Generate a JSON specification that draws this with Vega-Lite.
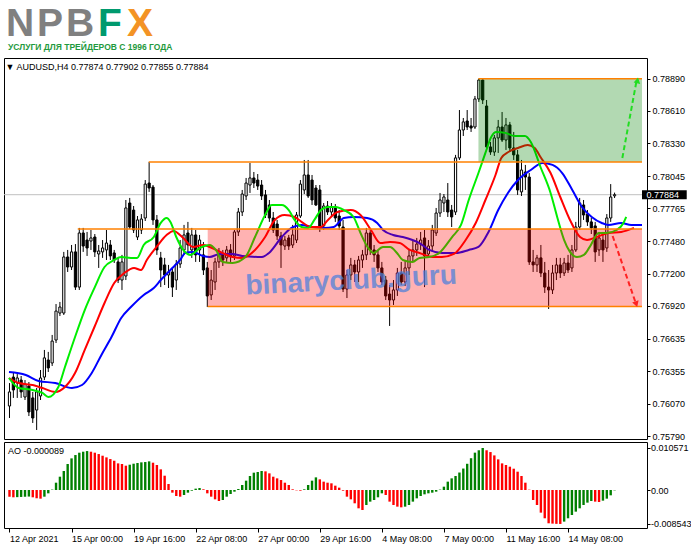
{
"$schema":"https://vega.github.io/schema/vega-lite/v6.json",
"background":"white",
"padding":{"left":3,"top":0,"right":0,"bottom":0},
"config":{"font":"Liberation Sans","view":{"stroke":"#000000","strokeWidth":1},"axis":{"labelFont":"Liberation Sans","labelFontSize":9,"labelColor":"#000000","tickColor":"#000000","domain":false,"grid":false,"title":null,"labelOverlap":false,"labelFlush":false,"labelSeparation":0}},
"resolve":{"scale":{"color":"independent","fill":"independent"}},
"datasets":{
"logo":[{"ch":"N","g":"npb"},{"ch":"P","g":"npb"},{"ch":"B","g":"npb"},{"ch":"F","g":"f"},{"ch":"X","g":"x"}],
"last":[{"p":0.77884}],
"wm":[{"t":"binaryclub.guru","i":88.2,"p":0.77066}],
"zones":[{"zone":"sell","x0":51.1,"top":0.77587,"bot":0.76915},{"zone":"buy","x0":120.9,"top":0.7889,"bot":0.78168}],
"levels":[{"p":0.7889,"x0":120.9},{"p":0.78168,"x0":35.9},{"p":0.77587,"x0":17.6},{"p":0.76915,"x0":51.1}],
"arrows":[{"a":"up","i":158.0,"p":0.78202},{"a":"up","i":161.6,"p":0.7886},{"a":"down","i":155.5,"p":0.77526},{"a":"down","i":161.3,"p":0.7696}],
"heads":[{"a":"up","i":161.9,"p":0.78875},{"a":"down","i":161.6,"p":0.76935}],
"candles":[
{"i":0,"o":0.76052,"h":0.76251,"l":0.75948,"c":0.76174},
{"i":1,"o":0.76303,"h":0.76347,"l":0.76122,"c":0.76191},
{"i":2,"o":0.76251,"h":0.76329,"l":0.76122,"c":0.76295},
{"i":3,"o":0.76277,"h":0.76312,"l":0.76122,"c":0.76174},
{"i":4,"o":0.7613,"h":0.76277,"l":0.76104,"c":0.76242},
{"i":5,"o":0.76225,"h":0.7626,"l":0.75965,"c":0.76},
{"i":6,"o":0.76122,"h":0.76174,"l":0.75905,"c":0.75948},
{"i":7,"o":0.76017,"h":0.76208,"l":0.75844,"c":0.76174},
{"i":8,"o":0.76139,"h":0.76364,"l":0.76104,"c":0.76295},
{"i":9,"o":0.76303,"h":0.76538,"l":0.76277,"c":0.76469},
{"i":10,"o":0.76451,"h":0.76521,"l":0.76347,"c":0.76382},
{"i":11,"o":0.76425,"h":0.76668,"l":0.76399,"c":0.76615},
{"i":12,"o":0.76624,"h":0.76936,"l":0.76598,"c":0.76875},
{"i":13,"o":0.76858,"h":0.76954,"l":0.76832,"c":0.7691},
{"i":14,"o":0.76858,"h":0.77388,"l":0.76841,"c":0.77344},
{"i":15,"o":0.77344,"h":0.77405,"l":0.77214,"c":0.77257},
{"i":16,"o":0.77257,"h":0.77448,"l":0.77231,"c":0.77388},
{"i":17,"o":0.77388,"h":0.77456,"l":0.77058,"c":0.77083},
{"i":18,"o":0.77083,"h":0.77596,"l":0.77058,"c":0.77552},
{"i":19,"o":0.77552,"h":0.77596,"l":0.77388,"c":0.77439},
{"i":20,"o":0.77491,"h":0.77561,"l":0.77353,"c":0.77422},
{"i":21,"o":0.77482,"h":0.77578,"l":0.77405,"c":0.77509},
{"i":22,"o":0.77517,"h":0.77543,"l":0.77344,"c":0.77388},
{"i":23,"o":0.7737,"h":0.77448,"l":0.77249,"c":0.77396},
{"i":24,"o":0.77388,"h":0.77491,"l":0.77336,"c":0.77422},
{"i":25,"o":0.77405,"h":0.77578,"l":0.77318,"c":0.77465},
{"i":26,"o":0.77448,"h":0.77491,"l":0.77318,"c":0.77353},
{"i":27,"o":0.77379,"h":0.77405,"l":0.77292,"c":0.77318},
{"i":28,"o":0.77301,"h":0.77336,"l":0.77118,"c":0.77144},
{"i":29,"o":0.77144,"h":0.77362,"l":0.77058,"c":0.77301},
{"i":30,"o":0.77179,"h":0.77838,"l":0.77144,"c":0.77769},
{"i":31,"o":0.77812,"h":0.77856,"l":0.77587,"c":0.77604},
{"i":32,"o":0.77751,"h":0.77786,"l":0.77552,"c":0.77578},
{"i":33,"o":0.77517,"h":0.77699,"l":0.77491,"c":0.77665},
{"i":34,"o":0.77578,"h":0.77716,"l":0.77543,"c":0.77673},
{"i":35,"o":0.77682,"h":0.78011,"l":0.77656,"c":0.77976},
{"i":36,"o":0.77985,"h":0.78168,"l":0.77908,"c":0.77942},
{"i":37,"o":0.7795,"h":0.77968,"l":0.77622,"c":0.77665},
{"i":38,"o":0.77665,"h":0.77708,"l":0.77362,"c":0.77405},
{"i":39,"o":0.77336,"h":0.77388,"l":0.77083,"c":0.77231},
{"i":40,"o":0.77275,"h":0.77336,"l":0.77101,"c":0.77188},
{"i":41,"o":0.77188,"h":0.77275,"l":0.77075,"c":0.77214},
{"i":42,"o":0.77214,"h":0.77249,"l":0.76997,"c":0.77083},
{"i":43,"o":0.77144,"h":0.77318,"l":0.77058,"c":0.77283},
{"i":44,"o":0.77283,"h":0.77491,"l":0.77249,"c":0.77422},
{"i":45,"o":0.77405,"h":0.77622,"l":0.77362,"c":0.77535},
{"i":46,"o":0.77552,"h":0.77648,"l":0.77362,"c":0.77448},
{"i":47,"o":0.77405,"h":0.77596,"l":0.77336,"c":0.77535},
{"i":48,"o":0.77535,"h":0.77578,"l":0.77301,"c":0.77362},
{"i":49,"o":0.77405,"h":0.77535,"l":0.77301,"c":0.77491},
{"i":50,"o":0.77362,"h":0.77474,"l":0.77188,"c":0.77231},
{"i":51,"o":0.77249,"h":0.77301,"l":0.7691,"c":0.77006},
{"i":52,"o":0.77015,"h":0.77231,"l":0.76971,"c":0.77144},
{"i":53,"o":0.77127,"h":0.77336,"l":0.77058,"c":0.77301},
{"i":54,"o":0.77301,"h":0.77422,"l":0.77249,"c":0.77362},
{"i":55,"o":0.77362,"h":0.77405,"l":0.77266,"c":0.77318},
{"i":56,"o":0.77336,"h":0.77439,"l":0.77301,"c":0.77405},
{"i":57,"o":0.77405,"h":0.77456,"l":0.77301,"c":0.77353},
{"i":58,"o":0.77353,"h":0.77578,"l":0.77318,"c":0.77561},
{"i":59,"o":0.77561,"h":0.77769,"l":0.77526,"c":0.77734},
{"i":60,"o":0.77734,"h":0.77925,"l":0.77699,"c":0.7789},
{"i":61,"o":0.77873,"h":0.78029,"l":0.77838,"c":0.77985},
{"i":62,"o":0.77968,"h":0.78159,"l":0.77899,"c":0.78029},
{"i":63,"o":0.78029,"h":0.78081,"l":0.77942,"c":0.77985},
{"i":64,"o":0.78011,"h":0.78063,"l":0.77925,"c":0.77959},
{"i":65,"o":0.77968,"h":0.78011,"l":0.77838,"c":0.77873},
{"i":66,"o":0.77882,"h":0.77925,"l":0.77682,"c":0.77708},
{"i":67,"o":0.77795,"h":0.77838,"l":0.77648,"c":0.77682},
{"i":68,"o":0.77682,"h":0.77734,"l":0.77552,"c":0.77578},
{"i":69,"o":0.7763,"h":0.77665,"l":0.77491,"c":0.77526},
{"i":70,"o":0.77526,"h":0.77561,"l":0.77249,"c":0.77448},
{"i":71,"o":0.77439,"h":0.77526,"l":0.77405,"c":0.77491},
{"i":72,"o":0.77509,"h":0.77535,"l":0.77405,"c":0.77439},
{"i":73,"o":0.77448,"h":0.77622,"l":0.77422,"c":0.77535},
{"i":74,"o":0.77491,"h":0.77734,"l":0.77465,"c":0.77708},
{"i":75,"o":0.77699,"h":0.78011,"l":0.77682,"c":0.77976},
{"i":76,"o":0.77925,"h":0.78185,"l":0.7789,"c":0.78055},
{"i":77,"o":0.78055,"h":0.78185,"l":0.77856,"c":0.77873},
{"i":78,"o":0.78011,"h":0.78055,"l":0.77795,"c":0.77838},
{"i":79,"o":0.77942,"h":0.77968,"l":0.77786,"c":0.77795},
{"i":80,"o":0.77925,"h":0.77968,"l":0.77561,"c":0.77596},
{"i":81,"o":0.77613,"h":0.77812,"l":0.77578,"c":0.77786},
{"i":82,"o":0.77786,"h":0.77829,"l":0.77708,"c":0.77734},
{"i":83,"o":0.77734,"h":0.77812,"l":0.77691,"c":0.77777},
{"i":84,"o":0.77777,"h":0.77803,"l":0.77648,"c":0.77682},
{"i":85,"o":0.77699,"h":0.77751,"l":0.77578,"c":0.77613},
{"i":86,"o":0.77604,"h":0.77665,"l":0.7704,"c":0.77066},
{"i":87,"o":0.77066,"h":0.77231,"l":0.76988,"c":0.77188},
{"i":88,"o":0.77188,"h":0.77336,"l":0.77144,"c":0.77275},
{"i":89,"o":0.77275,"h":0.77318,"l":0.77127,"c":0.77214},
{"i":90,"o":0.77214,"h":0.77353,"l":0.77127,"c":0.77318},
{"i":91,"o":0.77318,"h":0.77405,"l":0.77249,"c":0.77362},
{"i":92,"o":0.77362,"h":0.77596,"l":0.77318,"c":0.77552},
{"i":93,"o":0.77552,"h":0.77578,"l":0.77362,"c":0.77405},
{"i":94,"o":0.77405,"h":0.77448,"l":0.77301,"c":0.77362},
{"i":95,"o":0.77362,"h":0.77405,"l":0.77214,"c":0.77249},
{"i":96,"o":0.77249,"h":0.77301,"l":0.77101,"c":0.77127},
{"i":97,"o":0.77144,"h":0.77179,"l":0.76971,"c":0.77006},
{"i":98,"o":0.77023,"h":0.77101,"l":0.76746,"c":0.76971},
{"i":99,"o":0.76971,"h":0.77144,"l":0.76928,"c":0.77058},
{"i":100,"o":0.77058,"h":0.77249,"l":0.77006,"c":0.77205},
{"i":101,"o":0.77205,"h":0.77301,"l":0.77101,"c":0.77127},
{"i":102,"o":0.77127,"h":0.77318,"l":0.77092,"c":0.77249},
{"i":103,"o":0.77249,"h":0.77405,"l":0.77188,"c":0.77353},
{"i":104,"o":0.77353,"h":0.77491,"l":0.77301,"c":0.77405},
{"i":105,"o":0.77405,"h":0.77509,"l":0.77353,"c":0.77456},
{"i":106,"o":0.77456,"h":0.77561,"l":0.77405,"c":0.77491},
{"i":107,"o":0.77509,"h":0.77578,"l":0.77083,"c":0.77353},
{"i":108,"o":0.7737,"h":0.77491,"l":0.77336,"c":0.77439},
{"i":109,"o":0.77439,"h":0.77622,"l":0.77388,"c":0.77578},
{"i":110,"o":0.77552,"h":0.77769,"l":0.77526,"c":0.77725},
{"i":111,"o":0.77725,"h":0.77899,"l":0.77691,"c":0.77838},
{"i":112,"o":0.77812,"h":0.7789,"l":0.77734,"c":0.77864},
{"i":113,"o":0.77838,"h":0.77985,"l":0.77691,"c":0.77734},
{"i":114,"o":0.77751,"h":0.77795,"l":0.77604,"c":0.77691},
{"i":115,"o":0.77734,"h":0.78229,"l":0.77708,"c":0.78203},
{"i":116,"o":0.78203,"h":0.78618,"l":0.78185,"c":0.78445},
{"i":117,"o":0.78445,"h":0.78549,"l":0.78393,"c":0.78515},
{"i":118,"o":0.78523,"h":0.78618,"l":0.78445,"c":0.78471},
{"i":119,"o":0.7848,"h":0.78549,"l":0.78428,"c":0.78462},
{"i":120,"o":0.78471,"h":0.7874,"l":0.78454,"c":0.78714},
{"i":121,"o":0.78714,"h":0.7889,"l":0.78688,"c":0.78878},
{"i":122,"o":0.78878,"h":0.78884,"l":0.7867,"c":0.78705},
{"i":123,"o":0.78653,"h":0.78705,"l":0.78272,"c":0.78298},
{"i":124,"o":0.78298,"h":0.78341,"l":0.78229,"c":0.78254},
{"i":125,"o":0.78254,"h":0.78402,"l":0.7822,"c":0.78376},
{"i":126,"o":0.78376,"h":0.78532,"l":0.78246,"c":0.78471},
{"i":127,"o":0.78471,"h":0.78601,"l":0.78341,"c":0.78358},
{"i":128,"o":0.78358,"h":0.78549,"l":0.78272,"c":0.78489},
{"i":129,"o":0.78489,"h":0.78515,"l":0.78254,"c":0.78289},
{"i":130,"o":0.78289,"h":0.78428,"l":0.78185,"c":0.78229},
{"i":131,"o":0.78229,"h":0.78272,"l":0.77882,"c":0.77925},
{"i":132,"o":0.77908,"h":0.78185,"l":0.77873,"c":0.78098},
{"i":133,"o":0.78081,"h":0.78142,"l":0.77925,"c":0.78037},
{"i":134,"o":0.78037,"h":0.78072,"l":0.77275,"c":0.77301},
{"i":135,"o":0.77301,"h":0.77405,"l":0.77214,"c":0.77275},
{"i":136,"o":0.77275,"h":0.77362,"l":0.77214,"c":0.77336},
{"i":137,"o":0.77336,"h":0.77448,"l":0.7717,"c":0.77205},
{"i":138,"o":0.77205,"h":0.77301,"l":0.77032,"c":0.77083},
{"i":139,"o":0.77083,"h":0.77231,"l":0.76893,"c":0.77058},
{"i":140,"o":0.77058,"h":0.77275,"l":0.77023,"c":0.77205},
{"i":141,"o":0.77205,"h":0.77336,"l":0.77144,"c":0.77275},
{"i":142,"o":0.77275,"h":0.77336,"l":0.77162,"c":0.77205},
{"i":143,"o":0.77205,"h":0.77336,"l":0.77179,"c":0.77292},
{"i":144,"o":0.77292,"h":0.77362,"l":0.77205,"c":0.77231},
{"i":145,"o":0.77249,"h":0.77448,"l":0.77214,"c":0.77405},
{"i":146,"o":0.77405,"h":0.77648,"l":0.77388,"c":0.77604},
{"i":147,"o":0.77604,"h":0.77856,"l":0.77578,"c":0.77812},
{"i":148,"o":0.77795,"h":0.77838,"l":0.77665,"c":0.77708},
{"i":149,"o":0.77716,"h":0.77751,"l":0.77613,"c":0.77648},
{"i":150,"o":0.77648,"h":0.77682,"l":0.77543,"c":0.77596},
{"i":151,"o":0.77613,"h":0.77648,"l":0.77301,"c":0.77388},
{"i":152,"o":0.77405,"h":0.77561,"l":0.77353,"c":0.77509},
{"i":153,"o":0.77491,"h":0.77561,"l":0.77301,"c":0.77405},
{"i":154,"o":0.77422,"h":0.77716,"l":0.77388,"c":0.77682},
{"i":155,"o":0.77682,"h":0.77976,"l":0.77648,"c":0.77864},
{"i":156,"o":0.77874,"h":0.77902,"l":0.77855,"c":0.77884}
],
"gator":[
{"s":"jaw","i":-0.13,"p":0.76347},{"s":"jaw","i":4.2,"p":0.76321},{"s":"jaw","i":7.5,"p":0.76269},{"s":"jaw","i":11.8,"p":0.76251},{"s":"jaw","i":16.1,"p":0.76208},{"s":"jaw","i":18.7,"p":0.76234},{"s":"jaw","i":21.2,"p":0.76338},{"s":"jaw","i":23.7,"p":0.76495},{"s":"jaw","i":26.3,"p":0.7665},{"s":"jaw","i":28.8,"p":0.76815},{"s":"jaw","i":31.3,"p":0.7691},{"s":"jaw","i":34.6,"p":0.77015},{"s":"jaw","i":37.2,"p":0.77075},{"s":"jaw","i":39,"p":0.77144},{"s":"jaw","i":41.5,"p":0.77231},{"s":"jaw","i":44,"p":0.77318},{"s":"jaw","i":45.3,"p":0.77379},{"s":"jaw","i":47.3,"p":0.77388},{"s":"jaw","i":49.9,"p":0.77353},{"s":"jaw","i":51.6,"p":0.77344},{"s":"jaw","i":54.2,"p":0.7737},{"s":"jaw","i":57.5,"p":0.7737},{"s":"jaw","i":60,"p":0.77353},{"s":"jaw","i":65.1,"p":0.77344},{"s":"jaw","i":66.9,"p":0.77379},{"s":"jaw","i":70.2,"p":0.77517},{"s":"jaw","i":72.7,"p":0.77596},{"s":"jaw","i":75.3,"p":0.77622},{"s":"jaw","i":77.8,"p":0.77604},{"s":"jaw","i":81.1,"p":0.77596},{"s":"jaw","i":83.6,"p":0.77604},{"s":"jaw","i":86.2,"p":0.77682},{"s":"jaw","i":88.7,"p":0.77691},{"s":"jaw","i":92.2,"p":0.77682},{"s":"jaw","i":94.8,"p":0.77639},{"s":"jaw","i":96.3,"p":0.77578},{"s":"jaw","i":98.9,"p":0.77535},{"s":"jaw","i":101.4,"p":0.77517},{"s":"jaw","i":103.9,"p":0.77491},{"s":"jaw","i":105.7,"p":0.77465},{"s":"jaw","i":108.2,"p":0.77405},{"s":"jaw","i":111.5,"p":0.77379},{"s":"jaw","i":115.1,"p":0.77379},{"s":"jaw","i":118.4,"p":0.77405},{"s":"jaw","i":120.9,"p":0.77431},{"s":"jaw","i":123.5,"p":0.77561},{"s":"jaw","i":126,"p":0.77751},{"s":"jaw","i":128.5,"p":0.77899},{"s":"jaw","i":131.1,"p":0.78011},{"s":"jaw","i":134.4,"p":0.78098},{"s":"jaw","i":137.4,"p":0.78159},{"s":"jaw","i":140,"p":0.78142},{"s":"jaw","i":142.5,"p":0.78072},{"s":"jaw","i":145.1,"p":0.77925},{"s":"jaw","i":147.6,"p":0.77777},{"s":"jaw","i":150.1,"p":0.77691},{"s":"jaw","i":152.7,"p":0.77639},{"s":"jaw","i":154.4,"p":0.77622},{"s":"jaw","i":157.7,"p":0.77639},{"s":"jaw","i":160.3,"p":0.77622},{"s":"jaw","i":163.07,"p":0.77622},
{"s":"teeth","i":-0.13,"p":0.76295},{"s":"teeth","i":2.4,"p":0.76251},{"s":"teeth","i":6,"p":0.76234},{"s":"teeth","i":8.5,"p":0.76208},{"s":"teeth","i":11.8,"p":0.76174},{"s":"teeth","i":14.3,"p":0.76217},{"s":"teeth","i":16.9,"p":0.76338},{"s":"teeth","i":19.4,"p":0.76538},{"s":"teeth","i":21.9,"p":0.76737},{"s":"teeth","i":24.5,"p":0.76945},{"s":"teeth","i":27,"p":0.77118},{"s":"teeth","i":29.6,"p":0.77205},{"s":"teeth","i":32.1,"p":0.77249},{"s":"teeth","i":33.9,"p":0.77231},{"s":"teeth","i":35.4,"p":0.77318},{"s":"teeth","i":37.9,"p":0.77431},{"s":"teeth","i":40.5,"p":0.77535},{"s":"teeth","i":42.3,"p":0.7757},{"s":"teeth","i":44.8,"p":0.77509},{"s":"teeth","i":47.3,"p":0.77431},{"s":"teeth","i":49.9,"p":0.77448},{"s":"teeth","i":51.6,"p":0.77431},{"s":"teeth","i":54.9,"p":0.77379},{"s":"teeth","i":57.5,"p":0.77344},{"s":"teeth","i":60,"p":0.77336},{"s":"teeth","i":63.3,"p":0.77405},{"s":"teeth","i":65.9,"p":0.77517},{"s":"teeth","i":68.4,"p":0.77665},{"s":"teeth","i":70.9,"p":0.77708},{"s":"teeth","i":73.5,"p":0.77691},{"s":"teeth","i":75.3,"p":0.77648},{"s":"teeth","i":77.8,"p":0.77604},{"s":"teeth","i":80.3,"p":0.77604},{"s":"teeth","i":82.1,"p":0.77665},{"s":"teeth","i":84.6,"p":0.77734},{"s":"teeth","i":88,"p":0.77751},{"s":"teeth","i":90.5,"p":0.77708},{"s":"teeth","i":93.2,"p":0.77578},{"s":"teeth","i":95.6,"p":0.77465},{"s":"teeth","i":98.1,"p":0.77474},{"s":"teeth","i":100.6,"p":0.77465},{"s":"teeth","i":103.2,"p":0.77405},{"s":"teeth","i":105.7,"p":0.77379},{"s":"teeth","i":109,"p":0.77344},{"s":"teeth","i":111.5,"p":0.77344},{"s":"teeth","i":114.6,"p":0.7737},{"s":"teeth","i":117.6,"p":0.77491},{"s":"teeth","i":120.2,"p":0.77639},{"s":"teeth","i":122.7,"p":0.77838},{"s":"teeth","i":125.3,"p":0.78055},{"s":"teeth","i":126.8,"p":0.78203},{"s":"teeth","i":128.6,"p":0.78254},{"s":"teeth","i":131.1,"p":0.78289},{"s":"teeth","i":133.6,"p":0.78315},{"s":"teeth","i":135.4,"p":0.78289},{"s":"teeth","i":136.9,"p":0.78211},{"s":"teeth","i":139.5,"p":0.78072},{"s":"teeth","i":142,"p":0.77864},{"s":"teeth","i":144.5,"p":0.77665},{"s":"teeth","i":147.1,"p":0.77517},{"s":"teeth","i":148.9,"p":0.77491},{"s":"teeth","i":151.4,"p":0.77517},{"s":"teeth","i":154.4,"p":0.77552},{"s":"teeth","i":157.7,"p":0.77561},{"s":"teeth","i":161,"p":0.77596},
{"s":"lips","i":-0.13,"p":0.76295},{"s":"lips","i":2.4,"p":0.76208},{"s":"lips","i":6,"p":0.76191},{"s":"lips","i":8.5,"p":0.76165},{"s":"lips","i":10,"p":0.7613},{"s":"lips","i":12.6,"p":0.76217},{"s":"lips","i":14.3,"p":0.7639},{"s":"lips","i":16.9,"p":0.7665},{"s":"lips","i":19.4,"p":0.76884},{"s":"lips","i":22,"p":0.77083},{"s":"lips","i":24.5,"p":0.77257},{"s":"lips","i":27,"p":0.77318},{"s":"lips","i":28.8,"p":0.77344},{"s":"lips","i":31.3,"p":0.77336},{"s":"lips","i":32.9,"p":0.77336},{"s":"lips","i":34.6,"p":0.77448},{"s":"lips","i":37.2,"p":0.77517},{"s":"lips","i":39,"p":0.77639},{"s":"lips","i":40.5,"p":0.77682},{"s":"lips","i":41.5,"p":0.77648},{"s":"lips","i":43,"p":0.77517},{"s":"lips","i":44.8,"p":0.77405},{"s":"lips","i":46.6,"p":0.77362},{"s":"lips","i":49.1,"p":0.77422},{"s":"lips","i":51.6,"p":0.77448},{"s":"lips","i":53.2,"p":0.77405},{"s":"lips","i":55,"p":0.77301},{"s":"lips","i":57.5,"p":0.77292},{"s":"lips","i":60.8,"p":0.77344},{"s":"lips","i":63.3,"p":0.77517},{"s":"lips","i":65.9,"p":0.77708},{"s":"lips","i":67.6,"p":0.77795},{"s":"lips","i":70.2,"p":0.77795},{"s":"lips","i":72,"p":0.77751},{"s":"lips","i":73.5,"p":0.77665},{"s":"lips","i":75.3,"p":0.77604},{"s":"lips","i":77,"p":0.77596},{"s":"lips","i":78.6,"p":0.77665},{"s":"lips","i":80.3,"p":0.77751},{"s":"lips","i":82.1,"p":0.77777},{"s":"lips","i":84.1,"p":0.77777},{"s":"lips","i":86.2,"p":0.77751},{"s":"lips","i":88.7,"p":0.77691},{"s":"lips","i":90.5,"p":0.77552},{"s":"lips","i":92.3,"p":0.77431},{"s":"lips","i":93.8,"p":0.77379},{"s":"lips","i":96.3,"p":0.77431},{"s":"lips","i":98.1,"p":0.77431},{"s":"lips","i":99.9,"p":0.77379},{"s":"lips","i":101.4,"p":0.77318},{"s":"lips","i":103.9,"p":0.77301},{"s":"lips","i":105.7,"p":0.77336},{"s":"lips","i":108.2,"p":0.77344},{"s":"lips","i":110.8,"p":0.77379},{"s":"lips","i":114.1,"p":0.77517},{"s":"lips","i":116.4,"p":0.77622},{"s":"lips","i":118.4,"p":0.77838},{"s":"lips","i":120.9,"p":0.78072},{"s":"lips","i":122.7,"p":0.78246},{"s":"lips","i":124.2,"p":0.78385},{"s":"lips","i":125.5,"p":0.78428},{"s":"lips","i":127.8,"p":0.7842},{"s":"lips","i":130.3,"p":0.78393},{"s":"lips","i":132.9,"p":0.78393},{"s":"lips","i":134.4,"p":0.78341},{"s":"lips","i":136.9,"p":0.78124},{"s":"lips","i":139.5,"p":0.77899},{"s":"lips","i":141.2,"p":0.77691},{"s":"lips","i":143,"p":0.77491},{"s":"lips","i":144.5,"p":0.77388},{"s":"lips","i":146.3,"p":0.77344},{"s":"lips","i":148.1,"p":0.77362},{"s":"lips","i":149.6,"p":0.77431},{"s":"lips","i":151.9,"p":0.77552},{"s":"lips","i":153.9,"p":0.77552},{"s":"lips","i":156.5,"p":0.77578},{"s":"lips","i":158.3,"p":0.77639},{"s":"lips","i":159,"p":0.77691}
],
"ao":[
{"i":0,"v":-0.0017},{"i":1,"v":-0.00184},{"i":2,"v":-0.0018},{"i":3,"v":-0.00175},{"i":4,"v":-0.0017},{"i":5,"v":-0.00165},{"i":6,"v":-0.00184},{"i":7,"v":-0.0021},{"i":8,"v":-0.00218},{"i":9,"v":-0.00168},{"i":10,"v":-0.00084},{"i":11,"v":0.0001},{"i":12,"v":0.00184},{"i":13,"v":0.00335},{"i":14,"v":0.00478},{"i":15,"v":0.00654},{"i":16,"v":0.00796},{"i":17,"v":0.0088},{"i":18,"v":0.00939},{"i":19,"v":0.00964},{"i":20,"v":0.0098},{"i":21,"v":0.00964},{"i":22,"v":0.00939},{"i":23,"v":0.00905},{"i":24,"v":0.00863},{"i":25,"v":0.00821},{"i":26,"v":0.00779},{"i":27,"v":0.00737},{"i":28,"v":0.0067},{"i":29,"v":0.00654},{"i":30,"v":0.00612},{"i":31,"v":0.00637},{"i":32,"v":0.00662},{"i":33,"v":0.00679},{"i":34,"v":0.00696},{"i":35,"v":0.00704},{"i":36,"v":0.00721},{"i":37,"v":0.00687},{"i":38,"v":0.00629},{"i":39,"v":0.0052},{"i":40,"v":0.0036},{"i":41,"v":0.00151},{"i":42,"v":-0.00067},{"i":43,"v":-0.00151},{"i":44,"v":-0.00168},{"i":45,"v":-0.00126},{"i":46,"v":-0.00067},{"i":47,"v":-0.00017},{"i":48,"v":0.00034},{"i":49,"v":0.0005},{"i":50,"v":0.00017},{"i":51,"v":-0.00084},{"i":52,"v":-0.00168},{"i":53,"v":-0.00235},{"i":54,"v":-0.00277},{"i":55,"v":-0.00251},{"i":56,"v":-0.00168},{"i":57,"v":-0.00101},{"i":58,"v":-0.00042},{"i":59,"v":0.00025},{"i":60,"v":0.00126},{"i":61,"v":0.00235},{"i":62,"v":0.00352},{"i":63,"v":0.00436},{"i":64,"v":0.00453},{"i":65,"v":0.00478},{"i":66,"v":0.00469},{"i":67,"v":0.00419},{"i":68,"v":0.00335},{"i":69,"v":0.00293},{"i":70,"v":0.00251},{"i":71,"v":0.00184},{"i":72,"v":0.00126},{"i":73,"v":0.00017},{"i":74,"v":-0.00008},{"i":75,"v":-0.00017},{"i":76,"v":0.00017},{"i":77,"v":0.00126},{"i":78,"v":0.00235},{"i":79,"v":0.00318},{"i":80,"v":0.00268},{"i":81,"v":0.0021},{"i":82,"v":0.00184},{"i":83,"v":0.00168},{"i":84,"v":0.00109},{"i":85,"v":0.00059},{"i":86,"v":-0.00017},{"i":87,"v":-0.00168},{"i":88,"v":-0.00235},{"i":89,"v":-0.00335},{"i":90,"v":-0.00461},{"i":91,"v":-0.00503},{"i":92,"v":-0.00377},{"i":93,"v":-0.00293},{"i":94,"v":-0.00251},{"i":95,"v":-0.00184},{"i":96,"v":-0.00084},{"i":97,"v":-0.00126},{"i":98,"v":-0.00293},{"i":99,"v":-0.00377},{"i":100,"v":-0.00419},{"i":101,"v":-0.00436},{"i":102,"v":-0.00419},{"i":103,"v":-0.00377},{"i":104,"v":-0.00293},{"i":105,"v":-0.0021},{"i":106,"v":-0.00151},{"i":107,"v":-0.00109},{"i":108,"v":-0.00084},{"i":109,"v":-0.00067},{"i":110,"v":-0.00042},{"i":111,"v":0.0001},{"i":112,"v":0.00084},{"i":113,"v":0.0021},{"i":114,"v":0.00293},{"i":115,"v":0.00352},{"i":116,"v":0.0044},{"i":117,"v":0.0054},{"i":118,"v":0.0066},{"i":119,"v":0.008},{"i":120,"v":0.0094},{"i":121,"v":0.01},{"i":122,"v":0.010571},{"i":123,"v":0.01},{"i":124,"v":0.00955},{"i":125,"v":0.00871},{"i":126,"v":0.00771},{"i":127,"v":0.0067},{"i":128,"v":0.00629},{"i":129,"v":0.00587},{"i":130,"v":0.00536},{"i":131,"v":0.00461},{"i":132,"v":0.00352},{"i":133,"v":0.00184},{"i":134,"v":0.00008},{"i":135,"v":-0.00251},{"i":136,"v":-0.00377},{"i":137,"v":-0.0057},{"i":138,"v":-0.00712},{"i":139,"v":-0.00838},{"i":140,"v":-0.00846},{"i":141,"v":-0.00852},{"i":142,"v":-0.008543},{"i":143,"v":-0.00796},{"i":144,"v":-0.00712},{"i":145,"v":-0.00629},{"i":146,"v":-0.00545},{"i":147,"v":-0.00461},{"i":148,"v":-0.00377},{"i":149,"v":-0.00318},{"i":150,"v":-0.00277},{"i":151,"v":-0.00293},{"i":152,"v":-0.00302},{"i":153,"v":-0.00268},{"i":154,"v":-0.00218},{"i":155,"v":-0.00134},{"i":156,"v":-0.000089}
]
},
"spacing":14,
"bounds":"flush",
"vconcat":[
{
"width":152,"height":44,
"view":{"stroke":null},
"title":{"text":"УСЛУГИ ДЛЯ ТРЕЙДЕРОВ С 1996 ГОДА","orient":"bottom","anchor":"start","offset":-1,"dx":4,"fontSize":8.5,"fontWeight":"bold","font":"Liberation Sans Narrow, Liberation Sans","color":"#1f9a3e"},
"data":{"name":"logo"},
"mark":{"type":"text","fontSize":39,"fontWeight":"bold","font":"Liberation Sans","baseline":"alphabetic","dy":13.5},
"encoding":{
"x":{"field":"ch","type":"nominal","sort":null,"scale":{"type":"point","padding":0.533},"axis":null},
"text":{"field":"ch"},
"fill":{"field":"g","type":"nominal","scale":{"domain":["npb","f","x"],"range":["#808080","#009a6e","#f39325"]},"legend":null}
}
},
{
"spacing":3,
"bounds":"flush",
"vconcat":[
{
"width":643,"height":381,
"title":{"text":"▼  AUDUSD,H4   0.77874 0.77902 0.77855 0.77884","orient":"top","anchor":"start","offset":-21,"dx":2,"fontSize":9,"fontWeight":"normal","font":"Liberation Sans","color":"#000000","baseline":"alphabetic"},
"layer":[
{"data":{"name":"last"},"mark":{"type":"rule","color":"#c0c0c0","strokeWidth":1},
 "encoding":{"y":{"field":"p","type":"quantitative","scale":{"domain":[0.757659,0.790691],"nice":false,"zero":false},
  "axis":{"orient":"right","values":[0.7579,0.7607,0.76355,0.76635,0.7692,0.772,0.7748,0.77765,0.78045,0.7833,0.7861,0.7889],"tickCount":40,"format":".5f","tickSize":3,"labelPadding":2,"labelOverlap":false,"labelBound":false}}}},
{"data":{"name":"candles"},"mark":{"type":"rule","color":"#000000","strokeWidth":1},
 "encoding":{"x":{"field":"i","type":"quantitative","scale":{"domain":[-0.127,163.07],"nice":false,"zero":false},"axis":null},
  "y":{"field":"l","type":"quantitative","scale":{"domain":[0.757659,0.790691],"nice":false,"zero":false}},"y2":{"field":"h"}}},
{"data":{"name":"candles"},"mark":{"type":"bar","width":2.2,"stroke":"#000000","strokeWidth":1},
 "encoding":{"x":{"field":"i","type":"quantitative","scale":{"domain":[-0.127,163.07],"nice":false,"zero":false},"axis":null},
  "y":{"field":"o","type":"quantitative","scale":{"domain":[0.757659,0.790691],"nice":false,"zero":false}},"y2":{"field":"c"},
  "fill":{"condition":{"test":"datum.c >= datum.o","value":"#ffffff"},"value":"#000000"}}},
{"data":{"name":"gator"},"mark":{"type":"line","strokeWidth":2,"interpolate":"monotone","clip":true},
 "encoding":{"x":{"field":"i","type":"quantitative","scale":{"domain":[-0.127,163.07],"nice":false,"zero":false},"axis":null},
  "y":{"field":"p","type":"quantitative","scale":{"domain":[0.757659,0.790691],"nice":false,"zero":false}},
  "color":{"field":"s","type":"nominal","scale":{"domain":["jaw","teeth","lips"],"range":["#0000ff","#ff0000","#00ee00"]},"legend":null}}},
{"data":{"name":"zones"},"mark":{"type":"rect","opacity":0.3},
 "encoding":{"x":{"field":"x0","type":"quantitative","scale":{"domain":[-0.127,163.07],"nice":false,"zero":false},"axis":null},"x2":{"datum":163.07},
  "y":{"field":"top","type":"quantitative","scale":{"domain":[0.757659,0.790691],"nice":false,"zero":false}},"y2":{"field":"bot"},
  "fill":{"condition":{"test":"datum.zone === 'buy'","value":"#008000"},"value":"#ff0000"}}},
{"data":{"name":"levels"},"mark":{"type":"rule","color":"#ff8000","strokeWidth":1.5},
 "encoding":{"x":{"field":"x0","type":"quantitative","scale":{"domain":[-0.127,163.07],"nice":false,"zero":false},"axis":null},"x2":{"datum":163.07},
  "y":{"field":"p","type":"quantitative","scale":{"domain":[0.757659,0.790691],"nice":false,"zero":false}}}},
{"data":{"name":"wm"},"mark":{"type":"text","font":"Liberation Sans","fontWeight":"bold","fontSize":28,"angle":-3,"color":"#4a80dc","opacity":0.72,"align":"center","baseline":"alphabetic"},
 "encoding":{"x":{"field":"i","type":"quantitative","scale":{"domain":[-0.127,163.07],"nice":false,"zero":false},"axis":null},
  "y":{"field":"p","type":"quantitative","scale":{"domain":[0.757659,0.790691],"nice":false,"zero":false}},"text":{"field":"t"}}},
{"data":{"name":"arrows"},"mark":{"type":"line","strokeWidth":2,"strokeDash":[5,3]},
 "encoding":{"x":{"field":"i","type":"quantitative","scale":{"domain":[-0.127,163.07],"nice":false,"zero":false},"axis":null},
  "y":{"field":"p","type":"quantitative","scale":{"domain":[0.757659,0.790691],"nice":false,"zero":false}},"detail":{"field":"a"},
  "stroke":{"condition":{"test":"datum.a === 'up'","value":"#22dd22"},"value":"#ff2222"}}},
{"data":{"name":"heads"},"mark":{"type":"point","filled":true,"size":45,"opacity":1},
 "encoding":{"x":{"field":"i","type":"quantitative","scale":{"domain":[-0.127,163.07],"nice":false,"zero":false},"axis":null},
  "y":{"field":"p","type":"quantitative","scale":{"domain":[0.757659,0.790691],"nice":false,"zero":false}},
  "shape":{"condition":{"test":"datum.a === 'up'","value":"triangle-up"},"value":"triangle-down"},
  "angle":{"condition":{"test":"datum.a === 'up'","value":11},"value":-18},
  "fill":{"condition":{"test":"datum.a === 'up'","value":"#22dd22"},"value":"#ff2222"}}},
{"data":{"name":"last"},"mark":{"type":"rule","color":"#000000","strokeWidth":9},
 "encoding":{"x":{"datum":163.07,"type":"quantitative","scale":{"domain":[-0.127,163.07],"nice":false,"zero":false},"axis":null},"x2":{"datum":174.6},
  "y":{"field":"p","type":"quantitative","scale":{"domain":[0.757659,0.790691],"nice":false,"zero":false}}}},
{"data":{"name":"last"},"mark":{"type":"text","color":"#ffffff","fontSize":9,"align":"left","baseline":"middle","font":"Liberation Sans"},
 "encoding":{"x":{"datum":164.2,"type":"quantitative","scale":{"domain":[-0.127,163.07],"nice":false,"zero":false},"axis":null},
  "y":{"field":"p","type":"quantitative","scale":{"domain":[0.757659,0.790691],"nice":false,"zero":false}},"text":{"field":"p","format":".5f"}}}
]
},
{
"width":643,"height":86,
"title":{"text":"AO -0.000089","orient":"top","anchor":"start","offset":-21,"dx":4,"fontSize":9,"fontWeight":"normal","font":"Liberation Sans","color":"#000000","baseline":"alphabetic"},
"data":{"name":"ao"},
"transform":[{"window":[{"op":"lag","field":"v","as":"prev"}],"sort":[{"field":"i","order":"ascending"}]}],
"mark":{"type":"bar","width":2.4},
"encoding":{
"x":{"field":"i","type":"quantitative","scale":{"domain":[-0.127,163.07],"nice":false,"zero":false},
 "axis":{"orient":"bottom","values":[0,16,32,48,64,80,96,112,128,144],"tickCount":40,"tickSize":4,"labelPadding":2,"labelAlign":"left",
  "labelExpr":"['12 Apr 2021','15 Apr 00:00','19 Apr 16:00','22 Apr 08:00','27 Apr 00:00','29 Apr 16:00','4 May 08:00','7 May 00:00','11 May 16:00','14 May 08:00'][round(datum.value/16)]"}},
"y":{"field":"v","type":"quantitative","scale":{"domain":[-0.009564,0.012081],"nice":false,"zero":false},
 "axis":{"orient":"right","values":[0.010571,0,-0.008543],"tickCount":10,"tickSize":3,"labelPadding":0.5,"labelOverlap":false,
  "labelExpr":"datum.value > 0.005 ? '0.010571' : (datum.value < -0.005 ? '-0.008543' : '0.00')"}},
"y2":{"datum":0},
"color":{"condition":{"test":"datum.prev != null && datum.v > datum.prev","value":"#008000"},"value":"#ff0000"}
}
}
]
}
]
}
